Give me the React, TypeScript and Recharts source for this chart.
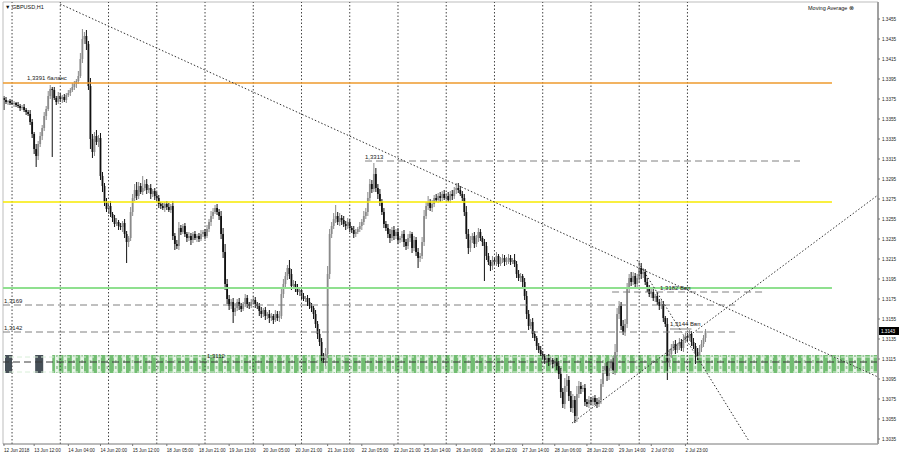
import React from 'react';
import {
  ComposedChart,
  Bar,
  XAxis,
  YAxis,
  ReferenceLine,
  ReferenceArea
} from 'recharts';

// GBPUSD H1 closes, in pips above 1.3000 (one value per hourly bar)
const closes = [
  374, 372, 373, 371, 370, 371, 369, 368, 366, 367,
  364, 362, 360, 352, 340, 325, 318, 330, 338, 346,
  358, 365, 378, 385, 384, 376, 372, 378, 375, 377,
  374, 379, 381, 384, 387, 390, 393, 398, 415, 435,
  438, 430, 388, 335, 322, 338, 332, 336, 298, 288,
  272, 265, 268, 260, 256, 250, 252, 248, 247, 251,
  240, 232, 236, 262, 276, 284, 278, 288, 282, 286,
  290, 284, 286, 280, 283, 278, 276, 270, 268, 266,
  270, 267, 264, 268, 238, 230, 228, 246, 242, 248,
  240, 236, 238, 234, 240, 236, 238, 235, 240, 242,
  238, 245, 252, 258, 262, 266, 262, 258, 240, 222,
  190, 175, 168, 172, 162, 166, 172, 168, 165, 170,
  176, 170, 168, 172, 174, 170, 168, 163, 160, 164,
  158, 160, 156, 158, 154, 160, 156, 158, 180, 190,
  198, 206, 200, 188, 190, 186, 182, 184, 178, 175,
  176, 172, 168, 166, 160, 150, 140, 132, 118, 114,
  120, 200, 240, 248, 255, 258, 252, 256, 254, 250,
  248, 252, 246, 244, 240, 242, 245, 248, 252, 258,
  262, 276, 290, 285, 300, 286, 280, 272, 262, 250,
  246, 240, 236, 244, 238, 242, 234, 236, 240, 232,
  228, 236, 240, 226, 234, 222, 216, 218, 232, 258,
  268, 272, 266, 270, 276, 274, 278, 276, 280, 276,
  278, 274, 280, 278, 284, 286, 284, 280, 276, 262,
  240, 226, 234, 238, 230, 236, 242, 236, 232, 228,
  218, 212, 208, 214, 212, 218, 210, 214, 216, 212,
  214, 216, 212, 214, 210, 200, 196, 198, 192, 178,
  160, 148, 152, 140, 136, 128, 124, 120, 118, 114,
  116, 112, 114, 110, 112, 108, 100, 82, 70, 88,
  94, 78, 66, 74, 58, 80, 88, 85, 86, 72,
  70, 74, 72, 76, 72, 70, 74, 90, 104, 108,
  98, 106, 112, 104, 122, 160, 168, 148, 142, 150,
  186, 196, 192, 198, 190, 196, 206, 200, 202, 192,
  186, 180, 182, 176, 178, 172, 168, 170, 156, 150,
  112, 120, 126, 130, 124, 128, 132, 126, 134, 138,
  136, 140, 132, 128, 122, 118, 126, 130, 136, 143
];

// upper / lower shadow length of each bar, pips
const hiWick = [
  2, 3, 1, 2, 3, 2, 1, 3, 2, 2,
  3, 2, 2, 4, 3, 2, 5, 3, 4, 3,
  4, 3, 5, 4, 2, 3, 2, 4, 3, 2,
  3, 2, 3, 2, 4, 3, 2, 5, 6, 10,
  4, 6, 3, 8, 5, 4, 6, 3, 5, 4,
  3, 4, 3, 5, 2, 3, 4, 2, 3, 2,
  4, 3, 2, 5, 4, 6, 8, 4, 3, 12,
  4, 5, 3, 4, 2, 3, 4, 3, 2, 3,
  2, 3, 4, 2, 5, 3, 4, 6, 3, 2,
  3, 2, 4, 3, 2, 3, 2, 3, 4, 2,
  3, 4, 3, 5, 4, 3, 4, 3, 5, 6,
  8, 5, 4, 3, 4, 5, 3, 4, 3, 2,
  4, 3, 2, 3, 4, 3, 2, 3, 4, 2,
  3, 2, 4, 3, 2, 4, 3, 5, 6, 5,
  4, 3, 8, 5, 4, 3, 4, 3, 2, 3,
  2, 3, 4, 3, 2, 4, 3, 5, 4, 3,
  6, 8, 5, 4, 6, 11, 4, 5, 3, 4,
  3, 4, 3, 2, 4, 3, 2, 4, 3, 5,
  4, 6, 5, 4, 11, 6, 4, 5, 3, 4,
  3, 4, 5, 3, 4, 3, 4, 2, 3, 4,
  3, 4, 3, 2, 4, 3, 4, 3, 5, 6,
  4, 6, 3, 4, 3, 4, 3, 4, 3, 4,
  3, 4, 3, 4, 3, 5, 5, 4, 3, 4,
  6, 5, 4, 3, 4, 3, 4, 3, 2, 3,
  4, 3, 2, 4, 3, 4, 2, 3, 4, 3,
  3, 4, 3, 2, 6, 3, 4, 3, 2, 4,
  5, 4, 3, 4, 3, 2, 3, 4, 3, 2,
  3, 4, 3, 2, 3, 4, 5, 6, 4, 8,
  6, 4, 5, 6, 4, 8, 5, 4, 3, 4,
  3, 4, 3, 2, 3, 4, 3, 5, 4, 3,
  4, 5, 3, 6, 8, 6, 5, 4, 6, 5,
  5, 4, 6, 4, 3, 4, 6, 5, 4, 3,
  4, 3, 4, 3, 2, 4, 3, 4, 3, 2,
  6, 5, 4, 3, 4, 3, 4, 3, 4, 3,
  3, 4, 3, 4, 3, 4, 3, 4, 3, 2
];

const loWick = [
  10, 2, 3, 2, 1, 3, 2, 2, 3, 2,
  2, 3, 2, 3, 4, 5, 11, 4, 3, 4,
  3, 4, 2, 3, 67, 2, 3, 2, 3, 4,
  2, 3, 2, 3, 2, 3, 4, 3, 2, 4,
  5, 6, 4, 10, 6, 4, 3, 5, 4, 6,
  4, 3, 5, 3, 4, 3, 2, 4, 3, 5,
  4, 21, 5, 3, 4, 3, 4, 3, 2, 3,
  3, 4, 3, 5, 3, 4, 3, 4, 3, 2,
  4, 3, 2, 3, 4, 6, 3, 4, 3, 2,
  3, 4, 3, 5, 3, 2, 4, 3, 2, 3,
  3, 2, 3, 4, 3, 2, 3, 4, 5, 6,
  6, 5, 4, 3, 11, 4, 3, 4, 3, 2,
  3, 4, 3, 2, 3, 4, 3, 5, 4, 3,
  4, 3, 5, 3, 4, 2, 3, 4, 3, 4,
  3, 4, 5, 4, 3, 4, 3, 4, 3, 2,
  3, 4, 3, 4, 5, 4, 5, 4, 5, 3,
  6, 4, 5, 4, 3, 4, 3, 4, 5, 3,
  4, 3, 4, 3, 4, 3, 2, 3, 4, 3,
  3, 4, 3, 4, 3, 4, 5, 4, 3, 4,
  3, 4, 5, 3, 4, 3, 4, 3, 4, 5,
  4, 3, 4, 5, 3, 4, 10, 4, 3, 4,
  3, 4, 3, 4, 3, 2, 3, 4, 3, 2,
  3, 2, 3, 4, 3, 4, 3, 2, 3, 4,
  5, 6, 4, 3, 4, 3, 4, 3, 4, 35,
  4, 3, 5, 4, 3, 4, 3, 2, 3, 4,
  3, 4, 3, 2, 3, 4, 3, 4, 5, 4,
  5, 4, 3, 4, 3, 4, 3, 2, 3, 4,
  3, 4, 3, 4, 3, 4, 5, 6, 4, 5,
  6, 5, 4, 5, 7, 6, 4, 5, 3, 4,
  3, 4, 3, 4, 3, 4, 3, 4, 3, 4,
  5, 4, 3, 4, 5, 6, 5, 4, 3, 4,
  4, 5, 4, 3, 4, 3, 4, 5, 4, 3,
  4, 3, 4, 3, 4, 3, 4, 3, 4, 3,
  18, 5, 4, 3, 4, 3, 4, 3, 4, 3,
  4, 3, 4, 3, 12, 4, 3, 4, 3, 4
];
const firstOpen = 376;

const timeLabels = [
  '12 Jun 2018', '13 Jun 12:00', '14 Jun 04:00', '14 Jun 20:00', '15 Jun 12:00',
  '18 Jun 05:00', '18 Jun 21:00', '19 Jun 13:00', '20 Jun 05:00', '20 Jun 21:00',
  '21 Jun 13:00', '22 Jun 05:00', '22 Jun 21:00', '25 Jun 14:00', '26 Jun 06:00',
  '26 Jun 22:00', '27 Jun 14:00', '28 Jun 06:00', '28 Jun 22:00', '29 Jun 14:00',
  '2 Jul 07:00', '2 Jul 23:00'
];
const timeTickBars = [0, 15, 32, 48, 64, 81, 97, 112, 129, 145, 161, 178, 194, 209, 225, 242, 258, 274, 290, 306, 322, 339];
const dayStarts = [4, 28, 52, 76, 100, 124, 148, 172, 196, 220, 244, 268, 292, 316, 340];
const priceTicks = [
  1.3035, 1.3055, 1.3075, 1.3095, 1.3115, 1.3135, 1.3155, 1.3175, 1.3195, 1.3215, 1.3235,
  1.3255, 1.3275, 1.3295, 1.3315, 1.3335, 1.3355, 1.3375, 1.3395, 1.3415, 1.3435, 1.3455
];

const balanceLevel = 1.3391;
const yellowLevel = 1.3272;
const greenLevel = 1.3186;
const bandLow = 1.3101;
const bandHigh = 1.3119;
const bandMid = 1.3112;
const lastPrice = 1.3143;

const BASE = 1.3;
const PIP = 0.0001;
const X_MIN = -0.5;
const X_MAX = 434.8;
const Y_MIN = 1.303;
const Y_MAX = 1.3472;
const FONT = '"Liberation Sans", Arial, sans-serif';

const candles = closes.map((c, i) => {
  const o = i === 0 ? firstOpen : closes[i - 1];
  const hi = Math.max(o, c) + hiWick[i];
  const lo = Math.min(o, c) - loWick[i];
  return {
    bar: i,
    open: BASE + o * PIP,
    close: BASE + c * PIP,
    high: BASE + hi * PIP,
    low: BASE + lo * PIP,
    range: [BASE + lo * PIP, BASE + hi * PIP]
  };
});

const Candle = (props: any) => {
  const { x, y, width, height, payload } = props;
  if (!payload || x == null) return null;
  const top = height < 0 ? y + height : y;
  const h = Math.abs(height);
  const cx = x + width / 2;
  const span = payload.high - payload.low;
  const k = span > 0 ? h / span : 0;
  const bTop = top + (payload.high - Math.max(payload.open, payload.close)) * k;
  const bBot = top + (payload.high - Math.min(payload.open, payload.close)) * k;
  const col = payload.close >= payload.open ? '#8a8a8a' : '#111';
  return (
    <g>
      <line x1={cx} x2={cx} y1={top} y2={top + h} stroke={col} strokeWidth={1} />
      <rect x={cx - 0.9} y={bTop} width={1.8} height={Math.max(bBot - bTop, 0.8)} fill={col} />
    </g>
  );
};

const levelLabel = (text: string, dx: number, dy = -2) => (p: any) => {
  if (!p || !p.viewBox) return null;
  return (
    <text x={p.viewBox.x + dx} y={p.viewBox.y + dy} fontSize={6} fontFamily={FONT} fill="#1a1a1a">
      {text}
    </text>
  );
};

const priceBox = (p: any) => {
  if (!p || !p.viewBox) return null;
  const x = p.viewBox.x + p.viewBox.width + 1;
  return (
    <g>
      <rect x={x} y={p.viewBox.y - 4} width={20} height={8} fill="#000" />
      <text x={x + 2} y={p.viewBox.y + 2} fontSize={4.6} fontFamily={FONT} fill="#fff">
        {lastPrice.toFixed(4)}
      </text>
    </g>
  );
};

const TimeTick = (p: any) => {
  const idx = timeTickBars.indexOf(p.payload.value);
  return (
    <text x={p.x} y={p.y + 4} fontSize={4.6} fontFamily={FONT} fill="#222" textAnchor="start">
      {idx >= 0 ? timeLabels[idx] : ''}
    </text>
  );
};

const dashed = { stroke: '#808080', strokeDasharray: '7 4', strokeWidth: 1 };
const dotted = { stroke: '#333', strokeDasharray: '1.5 2', strokeWidth: 1 };

export default function App() {
  return (
    <div style={{ position: 'absolute', left: 0, top: 0, width: 900, height: 456, background: '#fff' }}>
      <ComposedChart
        width={900}
        height={456}
        data={candles}
        margin={{ top: 2, right: 0, bottom: 0, left: 3 }}
      >
        <defs>
          <pattern id="bandStripes" patternUnits="userSpaceOnUse" width={8.4} height={6}>
            <rect x={0} y={0} width={8.4} height={6} fill="#eaf5ea" />
            <rect x={0} y={0} width={4.6} height={6} fill="#72bd72" />
            <rect x={6.1} y={0} width={0.9} height={3} fill="#4f9f4f" />
          </pattern>
        </defs>
        <XAxis
          dataKey="bar"
          type="number"
          domain={[X_MIN, X_MAX]}
          ticks={timeTickBars}
          interval={0}
          tick={<TimeTick />}
          tickSize={2}
          height={12}
          axisLine={{ stroke: '#777' }}
          tickLine={{ stroke: '#777' }}
          allowDataOverflow
        />
        <YAxis
          orientation="right"
          type="number"
          domain={[Y_MIN, Y_MAX]}
          ticks={priceTicks}
          interval={0}
          width={22}
          tickSize={2}
          tickFormatter={(v: number) => v.toFixed(4)}
          tick={{ fontSize: 4.6, fontFamily: FONT, fill: '#222' }}
          axisLine={{ stroke: '#a0a0a0', strokeWidth: 2 }}
          tickLine={{ stroke: '#777' }}
          allowDataOverflow
        />

        <ReferenceLine y={Y_MAX} stroke="#bdbdbd" ifOverflow="visible" />
        <ReferenceLine x={X_MIN} stroke="#bdbdbd" ifOverflow="visible" />
        {dayStarts.map((d) => (
          <ReferenceLine key={`day-${d}`} x={d} {...dotted} stroke="#444" />
        ))}

        <ReferenceArea x1={24} x2={X_MAX} y1={bandLow} y2={bandHigh} fill="url(#bandStripes)" fillOpacity={1} stroke="none" ifOverflow="visible" />
        <ReferenceArea x1={0.5} x2={4} y1={bandLow} y2={bandHigh} fill="#26303a" fillOpacity={0.85} stroke="none" />
        <ReferenceArea x1={15.5} x2={19.5} y1={bandLow} y2={bandHigh} fill="#26303a" fillOpacity={0.85} stroke="none" />
        <ReferenceLine y={bandHigh - 0.0002} stroke="#d8eed8" strokeDasharray="5 3" />
        <ReferenceLine y={bandLow + 0.0001} stroke="#d8eed8" strokeDasharray="5 3" />
        <ReferenceLine y={bandMid} stroke="#3a3a3a" strokeDasharray="7 4" label={levelLabel('1,3112', 204, -4)} />

        <ReferenceLine
          segment={[{ x: X_MIN, y: balanceLevel }, { x: 411.9, y: balanceLevel }]}
          stroke="#ee9a2c" strokeWidth={1.5}
          label={levelLabel('1,3391 баланс', 24, -3)}
          ifOverflow="visible"
        />
        <ReferenceLine
          segment={[{ x: X_MIN, y: yellowLevel }, { x: 411.9, y: yellowLevel }]}
          stroke="#f7ea00" strokeWidth={1.5}
          ifOverflow="visible"
        />
        <ReferenceLine
          segment={[{ x: X_MIN, y: greenLevel }, { x: 411.9, y: greenLevel }]}
          stroke="#8fe08f" strokeWidth={2}
          ifOverflow="visible"
        />

        <ReferenceLine segment={[{ x: 179.6, y: 1.3313 }, { x: 396, y: 1.3313 }]} {...dashed} label={levelLabel('1,3313', 0, -2)} ifOverflow="visible" />
        <ReferenceLine segment={[{ x: X_MIN, y: 1.3169 }, { x: 363.7, y: 1.3169 }]} {...dashed} label={levelLabel('1,3169', 1, -2)} ifOverflow="visible" />
        <ReferenceLine segment={[{ x: X_MIN, y: 1.3142 }, { x: 363.7, y: 1.3142 }]} {...dashed} label={levelLabel('1,3142', 1, -2)} ifOverflow="visible" />
        <ReferenceLine segment={[{ x: 302.5, y: 1.3182 }, { x: 378.6, y: 1.3182 }]} {...dashed} label={levelLabel('1,3182 Ввп', 48, -2)} ifOverflow="visible" />
        <ReferenceLine segment={[{ x: 331.3, y: 1.3145 }, { x: 342, y: 1.3145 }]} stroke="#808080" label={levelLabel('1,3144 Ввп', 0, -3)} ifOverflow="visible" />

        <Bar dataKey="range" barSize={2} shape={<Candle />} isAnimationActive={false} />

        <ReferenceLine segment={[{ x: 27.9, y: 1.347 }, { x: X_MAX, y: 1.3097 }]} {...dotted} ifOverflow="visible" />
        <ReferenceLine segment={[{ x: 282.6, y: 1.3051 }, { x: X_MAX, y: 1.3279 }]} {...dotted} ifOverflow="visible" />
        <ReferenceLine segment={[{ x: 314.9, y: 1.3214 }, { x: 370.6, y: Y_MIN + 0.0003 }]} {...dotted} ifOverflow="visible" />

        <ReferenceLine y={lastPrice} stroke="none" label={priceBox} />
      </ComposedChart>
      <div style={{ position: 'absolute', left: 5, top: 4, fontSize: 5.5, fontFamily: FONT, color: '#111' }}>
        ▼ GBPUSD,H1
      </div>
      <div style={{ position: 'absolute', left: 808, top: 5, fontSize: 5.5, fontFamily: FONT, color: '#111' }}>
        Moving Average ⊗
      </div>
    </div>
  );
}
